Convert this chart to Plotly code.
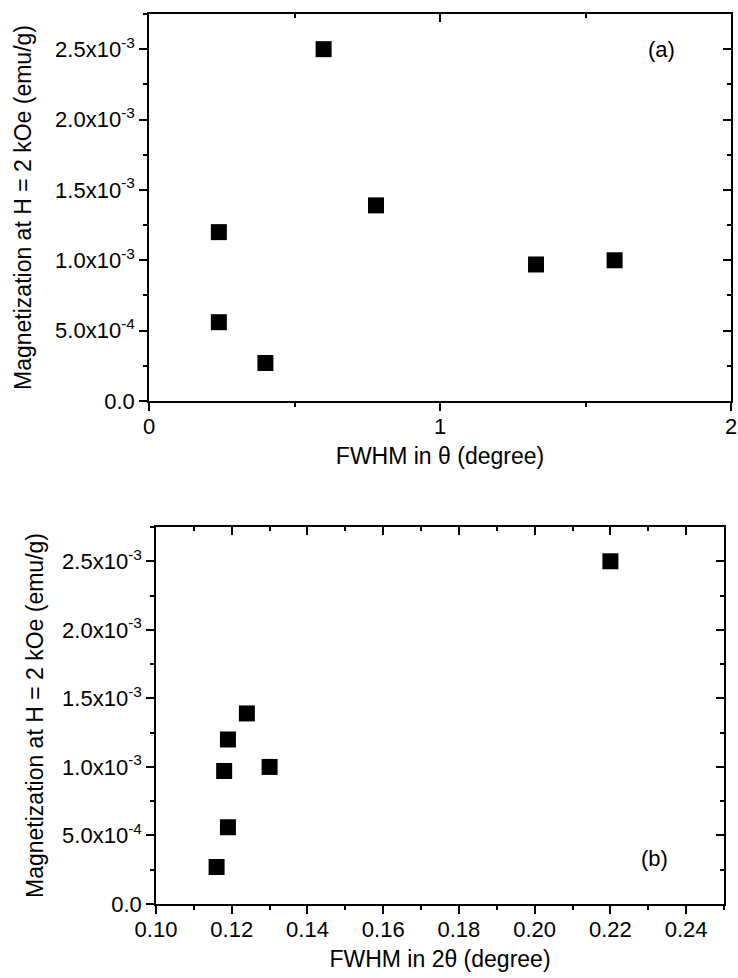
import plotly.graph_objects as go

# Panel (a): FWHM in theta vs magnetization
fwhm_theta = [0.24, 0.24, 0.40, 0.60, 0.78, 1.33, 1.60]
mag_a = [1.20e-3, 5.6e-4, 2.7e-4, 2.50e-3, 1.39e-3, 9.7e-4, 1.00e-3]

# Panel (b): FWHM in 2theta vs magnetization
fwhm_2theta = [0.116, 0.119, 0.118, 0.119, 0.124, 0.130, 0.220]
mag_b = [2.7e-4, 5.6e-4, 9.7e-4, 1.20e-3, 1.39e-3, 1.00e-3, 2.50e-3]

y_tickvals = [0, 5e-4, 1e-3, 1.5e-3, 2e-3, 2.5e-3]
y_ticktext = ["0.0", "5.0x10<sup>-4</sup>", "1.0x10<sup>-3</sup>", "1.5x10<sup>-3</sup>",
              "2.0x10<sup>-3</sup>", "2.5x10<sup>-3</sup>"]
y_range = [0, 2.75e-3]
xa_range = [0, 2]
xb_range = [0.10, 0.25]

FONT = "Liberation Sans, Arial, sans-serif"
FS = 22
FT = 23
W, H = 738, 978
LW = 1.5

def dom_x(l, r):
    return [l / W, r / W]

def dom_y(t, b):
    return [1 - b / H, 1 - t / H]

fig = go.Figure()
marker = dict(symbol="square", size=16, color="black", line=dict(width=0))
fig.add_trace(go.Scatter(x=fwhm_theta, y=mag_a, mode="markers", marker=marker,
                         xaxis="x", yaxis="y", showlegend=False))
fig.add_trace(go.Scatter(x=fwhm_2theta, y=mag_b, mode="markers", marker=marker,
                         xaxis="x2", yaxis="y2", showlegend=False))
# empty traces so the mirrored frame axes (top/right, inward ticks) get drawn
fig.add_trace(go.Scatter(x=[], y=[], mode="markers", xaxis="x3", yaxis="y3",
                         showlegend=False, hoverinfo="skip"))
fig.add_trace(go.Scatter(x=[], y=[], mode="markers", xaxis="x4", yaxis="y4",
                         showlegend=False, hoverinfo="skip"))

tfont = dict(family=FONT, size=FS, color="black")
common = dict(showline=True, linecolor="black", linewidth=LW, showgrid=False, zeroline=False,
              automargin=False, tickcolor="black", tickwidth=LW, tickfont=tfont)

xdomA = dom_x(149, 731); ydomA = dom_y(14, 401)
xdomB = dom_x(156, 724); ydomB = dom_y(527, 904)

def minor(inside, dtick, tick0=0):
    return dict(tickmode="linear", tick0=tick0, dtick=dtick,
                ticks="inside" if inside else "outside", ticklen=4,
                tickcolor="black", tickwidth=LW)

ytitle = dict(text="Magnetization at H = 2 kOe (emu/g)",
              font=dict(family=FONT, size=FT, color="black"))
ymain = dict(common, range=y_range, tickmode="array", tickvals=y_tickvals, ticktext=y_ticktext,
             ticks="outside", ticklen=8, minor=minor(False, 2.5e-4))
ymirror = dict(common, range=y_range, tickmode="array", tickvals=y_tickvals,
               ticks="inside", ticklen=8, showticklabels=False, side="right",
               minor=minor(True, 2.5e-4))

fig.update_layout(
    width=W, height=H, margin=dict(l=0, r=0, t=0, b=0),
    paper_bgcolor="white", plot_bgcolor="rgba(0,0,0,0)",
    font=dict(family=FONT, size=FS, color="black"),
    xaxis=dict(common, domain=xdomA, anchor="y", range=xa_range, tickmode="linear", tick0=0, dtick=1,
               ticks="outside", ticklen=8, minor=minor(False, 0.5), ticklabelstandoff=-3,
               ticklabeloverflow="allow",
               title=dict(text="FWHM in θ (degree)", font=dict(family=FONT, size=FT, color="black"),
                          standoff=10)),
    yaxis=dict(ymain, domain=ydomA, anchor="x", title=dict(ytitle, standoff=17)),
    xaxis3=dict(common, overlaying="x", anchor="y3", side="top", range=xa_range, tickmode="linear",
                tick0=0, dtick=1, ticks="inside", ticklen=8, showticklabels=False,
                minor=minor(True, 0.5)),
    yaxis3=dict(ymirror, overlaying="y", anchor="x3"),
    xaxis2=dict(common, domain=xdomB, anchor="y2", range=xb_range, tickmode="linear", tick0=0.10,
                dtick=0.02, tickformat=".2f", ticks="outside", ticklen=8, ticklabelstandoff=-3,
                ticklabeloverflow="allow", minor=minor(False, 0.01, 0.10),
                title=dict(text="FWHM in 2θ (degree)", font=dict(family=FONT, size=FT, color="black"),
                           standoff=10)),
    yaxis2=dict(ymain, domain=ydomB, anchor="x2", title=dict(ytitle, standoff=12)),
    xaxis4=dict(common, overlaying="x2", anchor="y4", side="top", range=xb_range, tickmode="linear",
                tick0=0.10, dtick=0.02, ticks="inside", ticklen=8, showticklabels=False,
                minor=minor(True, 0.01, 0.10)),
    yaxis4=dict(ymirror, overlaying="y2", anchor="x4"),
    annotations=[
        dict(text="(a)", x=1.76, y=2.5e-3, xref="x", yref="y", showarrow=False, font=tfont),
        dict(text="(b)", x=0.2316, y=3.3e-4, xref="x2", yref="y2", showarrow=False, font=tfont),
    ],
)

fig.write_html("out.html")
